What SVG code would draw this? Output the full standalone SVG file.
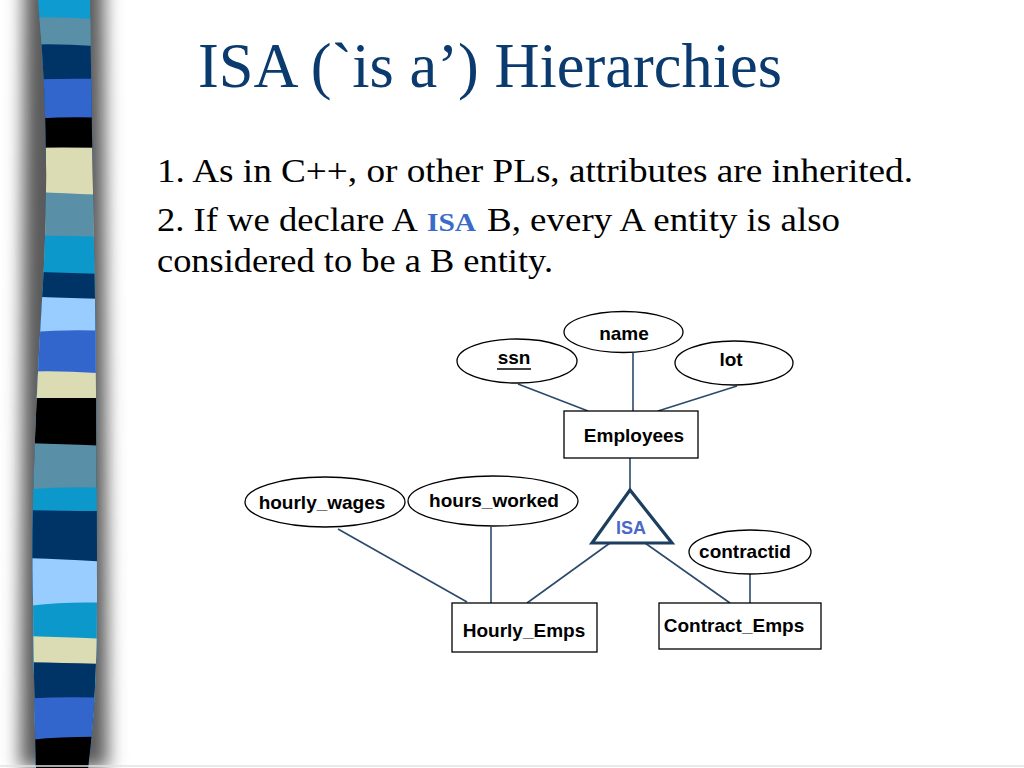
<svg xmlns="http://www.w3.org/2000/svg" width="1024" height="768" viewBox="0 0 1024 768">
<defs>
<style>
.title{font-family:"Liberation Serif","Times New Roman",serif;font-size:63px;fill:#0b3a6e}
.body{font-family:"Liberation Serif","Times New Roman",serif;font-size:33px;fill:#000}
.isa{font-family:"Liberation Serif","Times New Roman",serif;font-size:25px;font-weight:bold;fill:#3a6bc8}
.lbl{font-family:"Liberation Sans",Arial,sans-serif;font-size:19px;font-weight:bold;fill:#000;text-anchor:middle}
.attr{fill:#fff;stroke:#000;stroke-width:1.3}
.ent{fill:#fff;stroke:#000;stroke-width:1.3}
.conn line{stroke:#2b4a6b;stroke-width:1.6}
</style>
<filter id="blur" x="-50%" y="-5%" width="200%" height="110%"><feGaussianBlur stdDeviation="9"/></filter>
<clipPath id="strip"><path d="M38,0 Q52,150 42,300 Q30,500 33,600 Q34,700 36,768 L88,768 Q97,700 97,600 Q97,450 95,300 Q92,150 90,0 Z"/></clipPath>
</defs>
<rect width="1024" height="768" fill="#fff"/>
<g id="stripe">
<path d="M24,-20 L104,-20 L108,768 L20,768 Z" fill="#5a5a5a" filter="url(#blur)"/>
<g clip-path="url(#strip)">
<path d="M20,0 L110,0 L110,768 L20,768 Z" fill="#0e9bd0"/>
<path d="M20,18 Q60,16 110,20 L110,768 L20,768 Z" fill="#5a8fa8"/>
<path d="M20,45 Q60,43 110,47 L110,768 L20,768 Z" fill="#003366"/>
<path d="M20,80 Q60,78 110,79 L110,768 L20,768 Z" fill="#3366cc"/>
<path d="M20,120 Q60,116 110,118 L110,768 L20,768 Z" fill="#000"/>
<path d="M20,148 Q60,147 110,148 L110,768 L20,768 Z" fill="#dcdcb4"/>
<path d="M20,191 Q60,193 110,195 L110,768 L20,768 Z" fill="#5a8fa8"/>
<path d="M20,236 Q60,235 110,237 L110,768 L20,768 Z" fill="#0d98cc"/>
<path d="M20,271 Q60,273 110,274 L110,768 L20,768 Z" fill="#003366"/>
<path d="M20,296 Q60,298 110,299 L110,768 L20,768 Z" fill="#99ccff"/>
<path d="M20,333 Q60,329 110,331 L110,768 L20,768 Z" fill="#3366cc"/>
<path d="M20,372 Q60,370 110,374 L110,768 L20,768 Z" fill="#dcdcb4"/>
<path d="M20,398 Q60,398 110,398 L110,768 L20,768 Z" fill="#000"/>
<path d="M20,443 Q60,444 110,446 L110,768 L20,768 Z" fill="#5a8fa8"/>
<path d="M20,490 Q60,486 110,488 L110,768 L20,768 Z" fill="#0d98cc"/>
<path d="M20,510 Q60,511 110,511 L110,768 L20,768 Z" fill="#003366"/>
<path d="M20,558 Q60,559 110,562 L110,768 L20,768 Z" fill="#99ccff"/>
<path d="M20,607 Q60,601 110,603 L110,768 L20,768 Z" fill="#0d98cc"/>
<path d="M20,636 Q60,637 110,639 L110,768 L20,768 Z" fill="#dcdcb4"/>
<path d="M20,662 Q60,663 110,664 L110,768 L20,768 Z" fill="#003366"/>
<path d="M20,699 Q60,696 110,698 L110,768 L20,768 Z" fill="#3366cc"/>
<path d="M20,741 Q60,736 110,737 L110,768 L20,768 Z" fill="#000"/>
</g>
</g>
<line x1="0" y1="766" x2="1024" y2="766" stroke="#e2e2e2" stroke-width="1.5"/>
<g id="title"><text class="title" x="198" y="87" textLength="584" lengthAdjust="spacingAndGlyphs">ISA (`is a’) Hierarchies</text></g>
<g id="bullets">
<text class="body" x="157" y="182" textLength="756" lengthAdjust="spacingAndGlyphs">1. As in C++, or other PLs, attributes are inherited.</text>
<text class="body" x="157" y="231" textLength="261" lengthAdjust="spacingAndGlyphs">2. If we declare A</text>
<text class="isa" x="427" y="231" textLength="49" lengthAdjust="spacingAndGlyphs">ISA</text>
<text class="body" x="487" y="231" textLength="353" lengthAdjust="spacingAndGlyphs">B, every A entity is also</text>
<text class="body" x="157" y="272" textLength="396" lengthAdjust="spacingAndGlyphs">considered to be a B entity.</text>
</g>
<g id="connectors" class="conn">
<line x1="518" y1="384" x2="588" y2="411"/>
<line x1="633" y1="353" x2="633" y2="411"/>
<line x1="737" y1="386" x2="658" y2="411"/>
<line x1="630" y1="458" x2="630" y2="491"/>
<line x1="338" y1="529" x2="467" y2="602"/>
<line x1="491" y1="527" x2="491" y2="603"/>
<line x1="610" y1="543" x2="527" y2="603"/>
<line x1="645" y1="543" x2="730" y2="603"/>
<line x1="750" y1="574" x2="750" y2="603"/>
</g>
<g id="name"><ellipse class="attr" cx="623.5" cy="332" rx="59.5" ry="20.5"/><text class="lbl" x="624" y="340">name</text></g>
<g id="ssn"><ellipse class="attr" cx="517" cy="361" rx="60" ry="22"/><text class="lbl" x="514" y="364">ssn</text><line x1="497" y1="369" x2="531" y2="369" stroke="#000" stroke-width="1.6"/></g>
<g id="lot"><ellipse class="attr" cx="734" cy="363" rx="59" ry="22"/><text class="lbl" x="731" y="366">lot</text></g>
<g id="employees"><rect class="ent" x="564" y="411" width="134" height="47"/><text class="lbl" x="634" y="442">Employees</text></g>
<g id="isa"><polygon points="630,490 592,543 672,543" fill="#fff" stroke="#1c3f60" stroke-width="3.2" stroke-linejoin="miter"/><text class="lbl" x="631" y="534" style="fill:#4a68c8;font-size:18px">ISA</text></g>
<g id="hourly_wages"><ellipse class="attr" cx="325" cy="502" rx="80" ry="25"/><text class="lbl" x="322" y="509">hourly_wages</text></g>
<g id="hours_worked"><ellipse class="attr" cx="493" cy="501" rx="85" ry="25"/><text class="lbl" x="494" y="507">hours_worked</text></g>
<g id="contractid"><ellipse class="attr" cx="750" cy="552" rx="61" ry="22"/><text class="lbl" x="745" y="558">contractid</text></g>
<g id="hourly_emps"><rect class="ent" x="452" y="603" width="145" height="49"/><text class="lbl" x="524" y="637">Hourly_Emps</text></g>
<g id="contract_emps"><rect class="ent" x="659" y="603" width="162" height="46"/><text class="lbl" x="734" y="632">Contract_Emps</text></g>
</svg>
